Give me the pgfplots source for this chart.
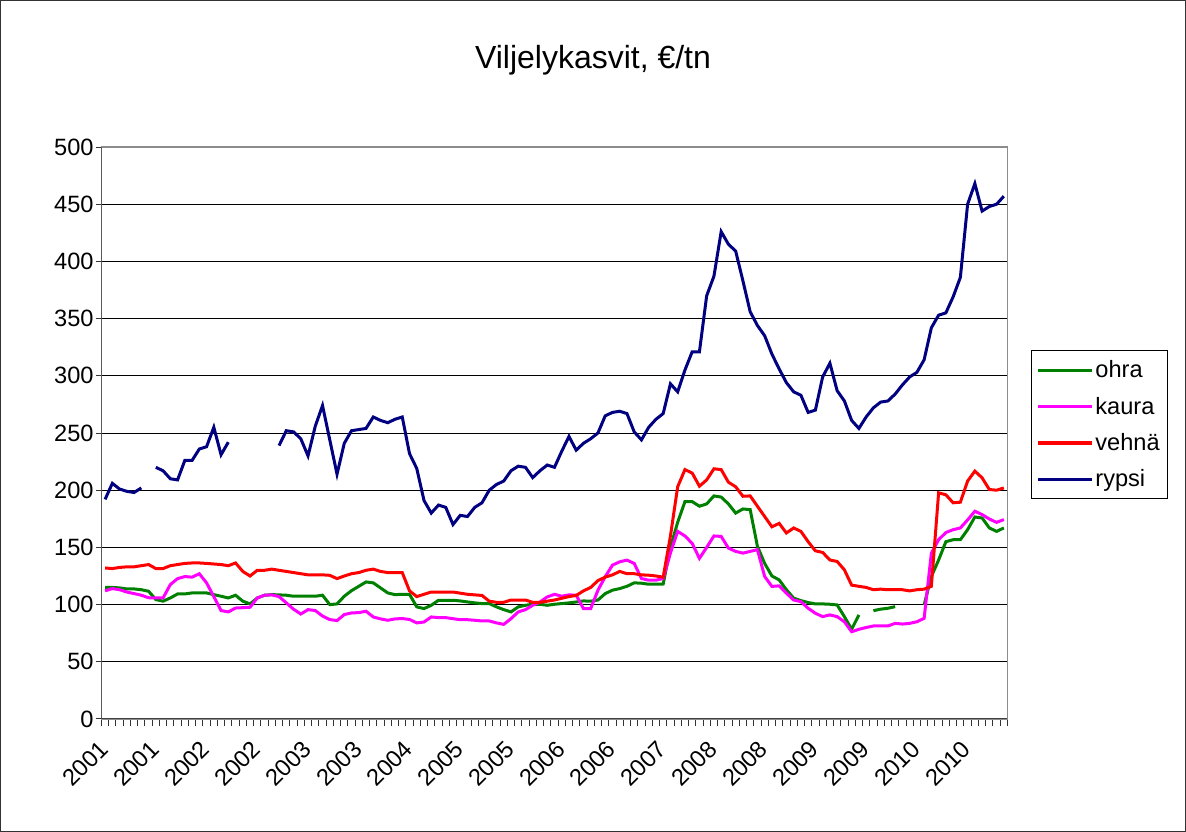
\documentclass[border=0pt]{standalone}
\usepackage{pgfplots}
\usepackage{pgfplotstable}
\pgfplotsset{compat=1.18}
\usepackage{fontspec}
\setmainfont{Liberation Sans}
\definecolor{cohra}{RGB}{0,128,0}
\definecolor{ckaura}{RGB}{255,0,255}
\definecolor{cvehna}{RGB}{255,0,0}
\definecolor{crypsi}{RGB}{0,0,128}
\pgfplotstableread{
i ohra kaura vehna rypsi
0 115 112 132 192
1 115 114 131.5 206
2 114.6 113 132.5 201
3 113.7 111 133 199
4 113.7 109.6 133 198
5 113 108.2 134 202
6 111.7 106 135 nan
7 104.4 105.8 131.5 220
8 103 105.8 131.5 217
9 105.8 117.5 134 210
10 109.3 122.7 135 209
11 109.3 124.5 136 226
12 110.2 124 136.4 226
13 110.2 127 136.4 236
14 110.2 119 136 238
15 108.7 107 135.5 255
16 107.3 94.8 135 231
17 105.8 93.6 134 242
18 108.2 97 136.4 nan
19 103 97.3 129 nan
20 100.6 97.7 125 nan
21 105.8 105.8 130 nan
22 108.2 108.2 130 nan
23 108.7 108.5 131 nan
24 108.5 107 130 239
25 108.2 101.5 129 252
26 107.3 96 128 251
27 107.3 91.8 127 245
28 107.3 95.6 126 230
29 107.3 94.8 126 256
30 108.2 90 126 274
31 100 86.9 125.6 244
32 100.6 86 122.7 214
33 107.3 91.3 125 241
34 112.2 92.7 127 252
35 116 93 128 253
36 119.8 94.2 130 254
37 119 89.2 131 264
38 114.6 87.5 129 261
39 110.2 86.3 128 259
40 108.7 87.5 128 262
41 109 87.8 128 264
42 109 87 112 232
43 98 84 107 219
44 96.5 84.8 109 191
45 99.4 89.2 111 180
46 103.8 88.6 111 187
47 103.8 88.6 111 185
48 103.8 87.7 111 170
49 103.2 86.8 110 178
50 102.3 86.8 109 177
51 101.5 86.3 108.5 185
52 100.9 85.7 108 189
53 100.9 85.7 103 200
54 98 84 102 205
55 95.6 82.7 102 208
56 93.6 87.7 104 217
57 98 93.6 104 221
58 99.4 95.6 104 220
59 100.3 99.4 102 211
60 100.3 102.3 102 217
61 99.4 106.7 103 222
62 100.3 109 104 220
63 100.9 107.3 105.5 234
64 101.5 108.5 107 247
65 102.3 108.2 108 235
66 103.2 96.5 112 241
67 103 96.5 115 245
68 104 112.6 121 250
69 109.6 124.3 124 265
70 112.6 134.5 126 268
71 114 137.4 129 269
72 116 138.9 127 267
73 119 136 127 251
74 118.7 122.8 126 244
75 117.8 121.3 125.7 255
76 117.8 121.3 125 262
77 118 122.8 124 267
78 150 145 160 293
79 172 164 203 286
80 190 160 218 305
81 190 153.5 215 321
82 186 140.4 203.5 321
83 188 150 209 370
84 195 160 218.7 387
85 194 159.6 218 426
86 188 149.4 207 415
87 180 146.5 203 409
88 183.6 145 194.7 383
89 183 146.5 195 356
90 151 148 186 344
91 136 124.6 177 335
92 125 115.9 168 319
93 121.6 116.4 171 306
94 113 110 162.6 294
95 105.6 104 167 286
96 103.5 102.6 164 283
97 101.8 96.8 155 268
98 100.6 92.4 147 270
99 100.6 89.5 145.6 299
100 100.3 91 139 311
101 99.7 89.5 137.7 287
102 89.5 85 130.4 278
103 78.4 76.3 117 261
104 91 78.4 116 254
105 nan 80 115 264
106 94.7 81.3 113 272
107 96 81.3 113.5 277
108 96.8 81.3 113 278
109 98.2 83.6 113 284
110 nan 83 113 292
111 nan 83.6 112 299
112 nan 85 113 303
113 99.7 88 113.5 314
114 124.6 145 116 342
115 139 156.7 197.7 353
116 155 163 196 355
117 156.7 165.5 189 369
118 156.7 167 189.5 386
119 165.5 174 208 450
120 176.6 181.6 216.7 468
121 175.7 178.7 210.8 444
122 167 174.8 200.6 448
123 164 171.9 200 450
124 167 174.3 202 457
}\data
\begin{document}
\begin{tikzpicture}
\path[use as bounding box] (0pt,0pt) rectangle (889.5pt,624pt);
\draw[black!80, line width=0.75pt] (0.6pt,0.6pt) rectangle (888.9pt,623.4pt);
\node[font=\fontsize{24}{28}\selectfont] at (444.75pt,579pt) {Viljelykasvit, €/tn};
\begin{axis}[
  at={(76.1pt,84.75pt)}, anchor=south west,
  scale only axis, width=679.5pt, height=429pt,
  xmin=-0.5, xmax=124.5, ymin=0, ymax=500,
  ytick={0,50,...,500},
  xtick={0,7,...,119},
  xticklabels={2001,2001,2002,2002,2003,2003,2004,2005,2005,2006,2006,2007,2008,2008,2009,2009,2010,2010},
  minor xtick={-0.5,0.5,...,124.5},
  xtick pos=bottom, ytick pos=left,
  tick align=outside,
  major tick length=3.75pt,
  minor tick length=5.25pt,
  major x tick style={draw=none},
  tick style={black!80, line width=0.75pt},
  ymajorgrids,
  grid style={black, line width=0.75pt},
  axis line style={draw=black!45, line width=0.9pt},
  ticklabel style={font=\fontsize{17.7}{20}\selectfont},
  xticklabel style={rotate=45, anchor=east, inner sep=1pt},
  xticklabel shift=15pt,
  yticklabel style={inner sep=2pt},
  /pgf/number format/assume math mode=true,
  unbounded coords=jump,
  legend style={at={(1.026,0.645)}, anchor=north west, draw=black, line width=0.75pt,
    font=\fontsize{17.7}{20}\selectfont, row sep=10pt, inner xsep=4pt, inner ysep=6pt,
    nodes={inner sep=1.5pt}},
  legend cell align=left,
  legend image code/.code={\draw[#1, line width=2.4pt] (0pt,0pt) -- (40pt,0pt);},
]
\addplot[cohra, line width=2.25pt] table[x=i, y=ohra] {\data};
\addlegendentry{ohra}
\addplot[ckaura, line width=2.25pt] table[x=i, y=kaura] {\data};
\addlegendentry{kaura}
\addplot[cvehna, line width=2.25pt] table[x=i, y=vehna] {\data};
\addlegendentry{vehnä}
\addplot[crypsi, line width=2.25pt] table[x=i, y=rypsi] {\data};
\addlegendentry{rypsi}
\draw[black!75, line width=1pt] (rel axis cs:0,0) -- (rel axis cs:0,1);
\draw[black!75, line width=1pt] (rel axis cs:0,0) -- (rel axis cs:1,0);
\end{axis}
\end{tikzpicture}
\end{document}
